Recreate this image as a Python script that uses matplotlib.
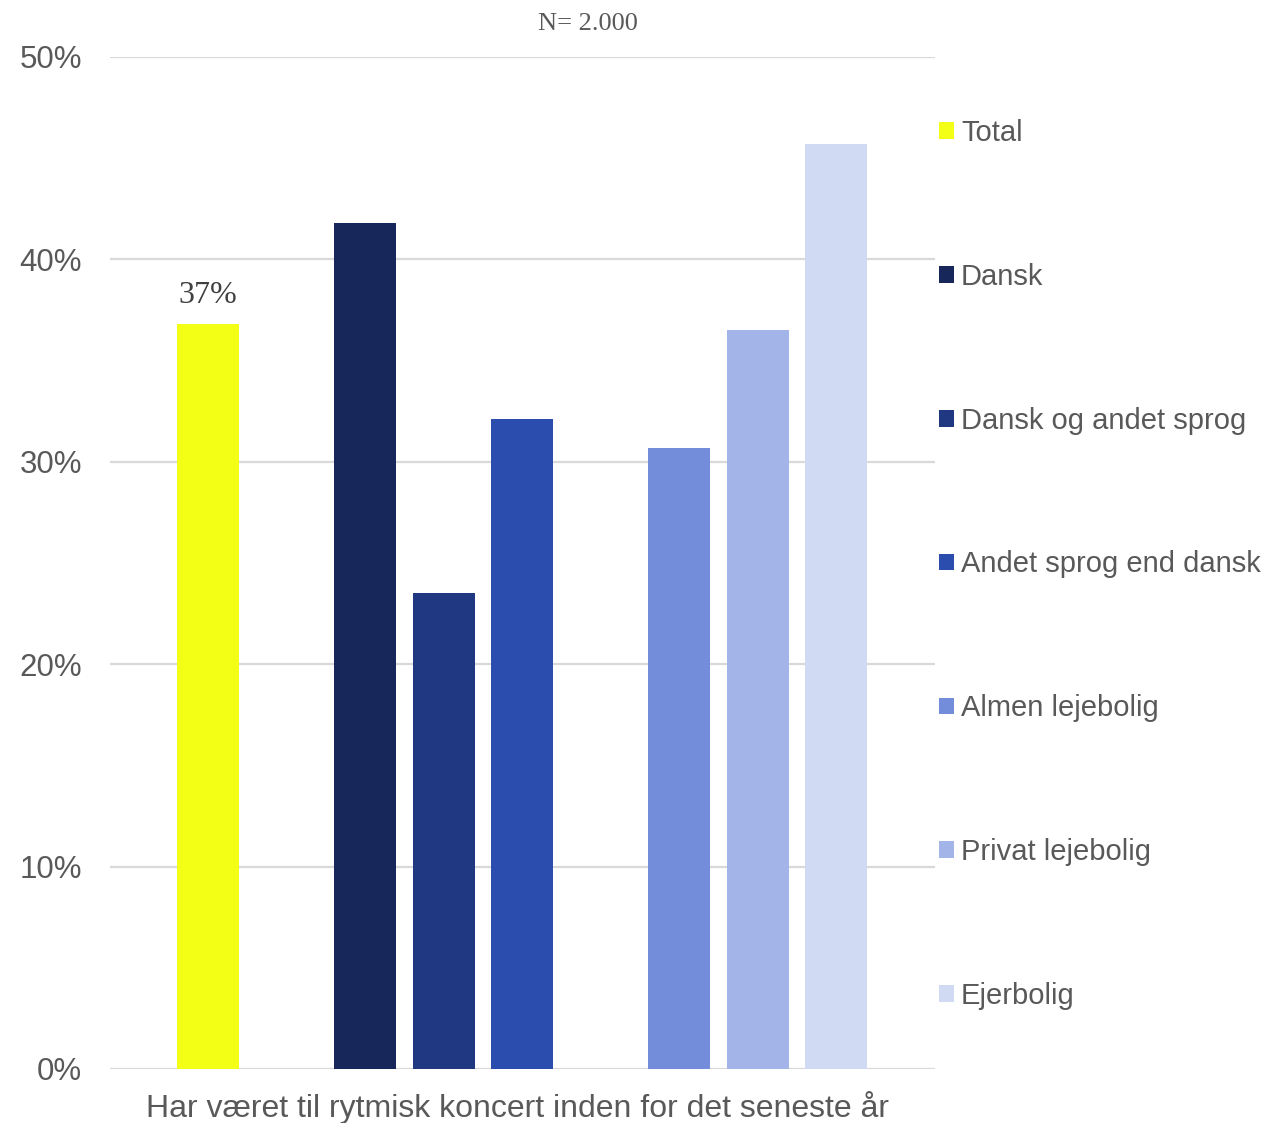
import numpy as np
import matplotlib.pyplot as plt
from matplotlib.patches import Patch

# data
series = ["Total", "Dansk", "Dansk og andet sprog", "Andet sprog end dansk",
          "Almen lejebolig", "Privat lejebolig", "Ejerbolig"]
values = [36.8, 41.8, 23.5, 32.1, 30.7, 36.5, 45.7]
slots = [0, 2, 3, 4, 6, 7, 8]
colors = ["#F3FF14", "#172759", "#203881", "#2B4EAE", "#738DDB", "#A3B4E8", "#D0DAF3"]
category = "Har været til rytmisk koncert inden for det seneste år"

plt.rcParams['font.family'] = ['Liberation Sans', 'DejaVu Sans']
grey = "#595959"

fig = plt.figure(figsize=(12.66, 11.23), dpi=100)
ax = fig.add_axes([110 / 1266, 1 - 1069 / 1123, 825 / 1266, (1069 - 57) / 1123])

ax.bar(slots, values, width=0.79, color=colors, zorder=2)
ax.set_xlim(-1.25, 9.26)
ax.set_ylim(0, 50)
ax.set_yticks(np.arange(0, 51, 10))
ax.set_yticklabels([f"{v}%" for v in range(0, 51, 10)])
ax.yaxis.grid(True, color="#D9D9D9", linewidth=1.6, zorder=0)
ax.set_axisbelow(True)
ax.tick_params(axis='y', length=0, pad=20, labelsize=22.5, labelcolor=grey)
ax.set_xticks([])
for s in ax.spines.values():
    s.set_visible(False)

ax.text(slots[0], values[0] + 0.7, f"{round(values[0])}%", ha='center', va='bottom',
        fontsize=23, color="#404040", family='Liberation Serif')
fig.text(588 / 1266, 1 - 24 / 1123, "N= 2.000", ha='center', va='center',
         fontsize=19, color=grey, family='Liberation Serif')
fig.text(518 / 1266, 1 - 1107 / 1123, category, ha='center', va='center',
         fontsize=23, color=grey)

handles = [Patch(facecolor=c, edgecolor='none') for c in colors]
leg = fig.legend(handles, series, loc='upper left',
                 bbox_to_anchor=(939 / 1266, 1 - 119 / 1123), frameon=False,
                 fontsize=21, handlelength=0.5, handleheight=0.5,
                 handletextpad=0.25, labelspacing=3.97, borderpad=0, borderaxespad=0)
for t in leg.get_texts():
    t.set_color(grey)

fig.savefig("out.png", dpi=100)
